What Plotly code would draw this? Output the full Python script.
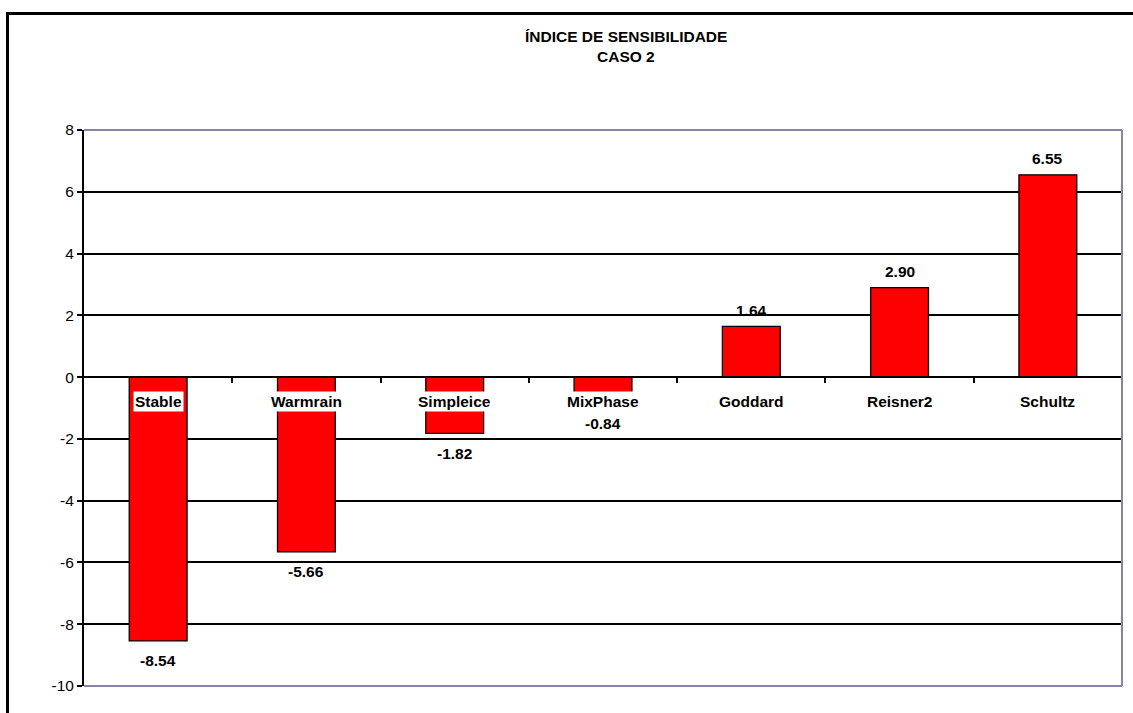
import plotly.graph_objects as go

# Sensitivity index per microphysics scheme
categories = ["Stable", "Warmrain", "Simpleice", "MixPhase", "Goddard", "Reisner2", "Schultz"]
values = [-8.54, -5.66, -1.82, -0.84, 1.64, 2.90, 6.55]
y_ticks = [-10, -8, -6, -4, -2, 0, 2, 4, 6, 8]
y_tick_text = [str(t) for t in y_ticks]  # plain hyphen for negatives

W, H = 1133, 713
L, R, T, B = 84, 11, 130, 27
plot_w = W - L - R
plot_h = H - T - B

FONT = "Arial, Liberation Sans, sans-serif"
BORDER = "#8484a4"
LABEL_SIZE = 15.5

x_idx = list(range(len(categories)))

fig = go.Figure()
fig.add_trace(go.Bar(
    x=x_idx,
    y=values,
    width=0.39,
    marker=dict(color="#ff0000", line=dict(color="black", width=1.3)),
    hoverinfo="skip",
))

annotations = []
# category labels sitting just under the zero line, on a white box
for i, name in zip(x_idx, categories):
    annotations.append(dict(
        x=i, y=0, xref="x", yref="y", text=name, showarrow=False,
        yanchor="middle", xanchor="center", yshift=-24,
        bgcolor="white", borderpad=1,
        font=dict(family=FONT, size=LABEL_SIZE, color="black", weight="bold"),
    ))
# value labels at the end of each bar
for i, v in zip(x_idx, values):
    annotations.append(dict(
        x=i, y=v, xref="x", yref="y", text=f"{v:.2f}", showarrow=False,
        yanchor="middle", xanchor="center", yshift=(16 if v >= 0 else -20),
        font=dict(family=FONT, size=LABEL_SIZE, color="black", weight="bold"),
    ))


def py(px):
    return (H - B - px) / plot_h


def pxp(px):
    return (px - L) / plot_w


# two-line title
for txt, ypx in [("ÍNDICE DE SENSIBILIDADE", 37), ("CASO 2", 57)]:
    annotations.append(dict(
        x=pxp(626), y=py(ypx), xref="paper", yref="paper", text=txt,
        showarrow=False, xanchor="center", yanchor="middle",
        font=dict(family=FONT, size=LABEL_SIZE, color="black", weight="bold"),
    ))

shapes = [
    # outer chart frame
    dict(type="rect", xref="paper", yref="paper",
         x0=pxp(7.5), x1=pxp(1145), y0=py(725), y1=py(13.5),
         line=dict(color="black", width=3), layer="below"),
    # plot-area border (top, right, bottom)
    dict(type="line", xref="paper", yref="paper", x0=0, x1=1, y0=1, y1=1,
         line=dict(color=BORDER, width=2), layer="above"),
    dict(type="line", xref="paper", yref="paper", x0=1, x1=1, y0=0, y1=1,
         line=dict(color=BORDER, width=2), layer="above"),
    dict(type="line", xref="paper", yref="paper", x0=0, x1=1, y0=0, y1=0,
         line=dict(color=BORDER, width=2), layer="above"),
]

fig.update_layout(
    width=W, height=H,
    margin=dict(l=L, r=R, t=T, b=B, pad=0),
    paper_bgcolor="white", plot_bgcolor="white",
    showlegend=False,
    annotations=annotations,
    shapes=shapes,
    xaxis=dict(
        range=[-0.5, len(categories) - 0.5],
        anchor="free", position=10 / 18,
        showline=True, linecolor="black", linewidth=2,
        tickmode="array", tickvals=[i + 0.5 for i in x_idx],
        ticks="outside", ticklen=5, tickwidth=2, tickcolor="black",
        showticklabels=False, showgrid=False, zeroline=False,
        fixedrange=True,
    ),
    yaxis=dict(
        range=[-10, 8],
        tickmode="array", tickvals=y_ticks, ticktext=y_tick_text,
        showgrid=True, gridcolor="black", gridwidth=2,
        zeroline=False,
        showline=True, linecolor="black", linewidth=2,
        ticks="outside", ticklen=5, tickwidth=2, tickcolor="black",
        tickfont=dict(family=FONT, size=15.5, color="black"),
        fixedrange=True,
    ),
)

fig.write_html("out.html", config={"displayModeBar": False})
